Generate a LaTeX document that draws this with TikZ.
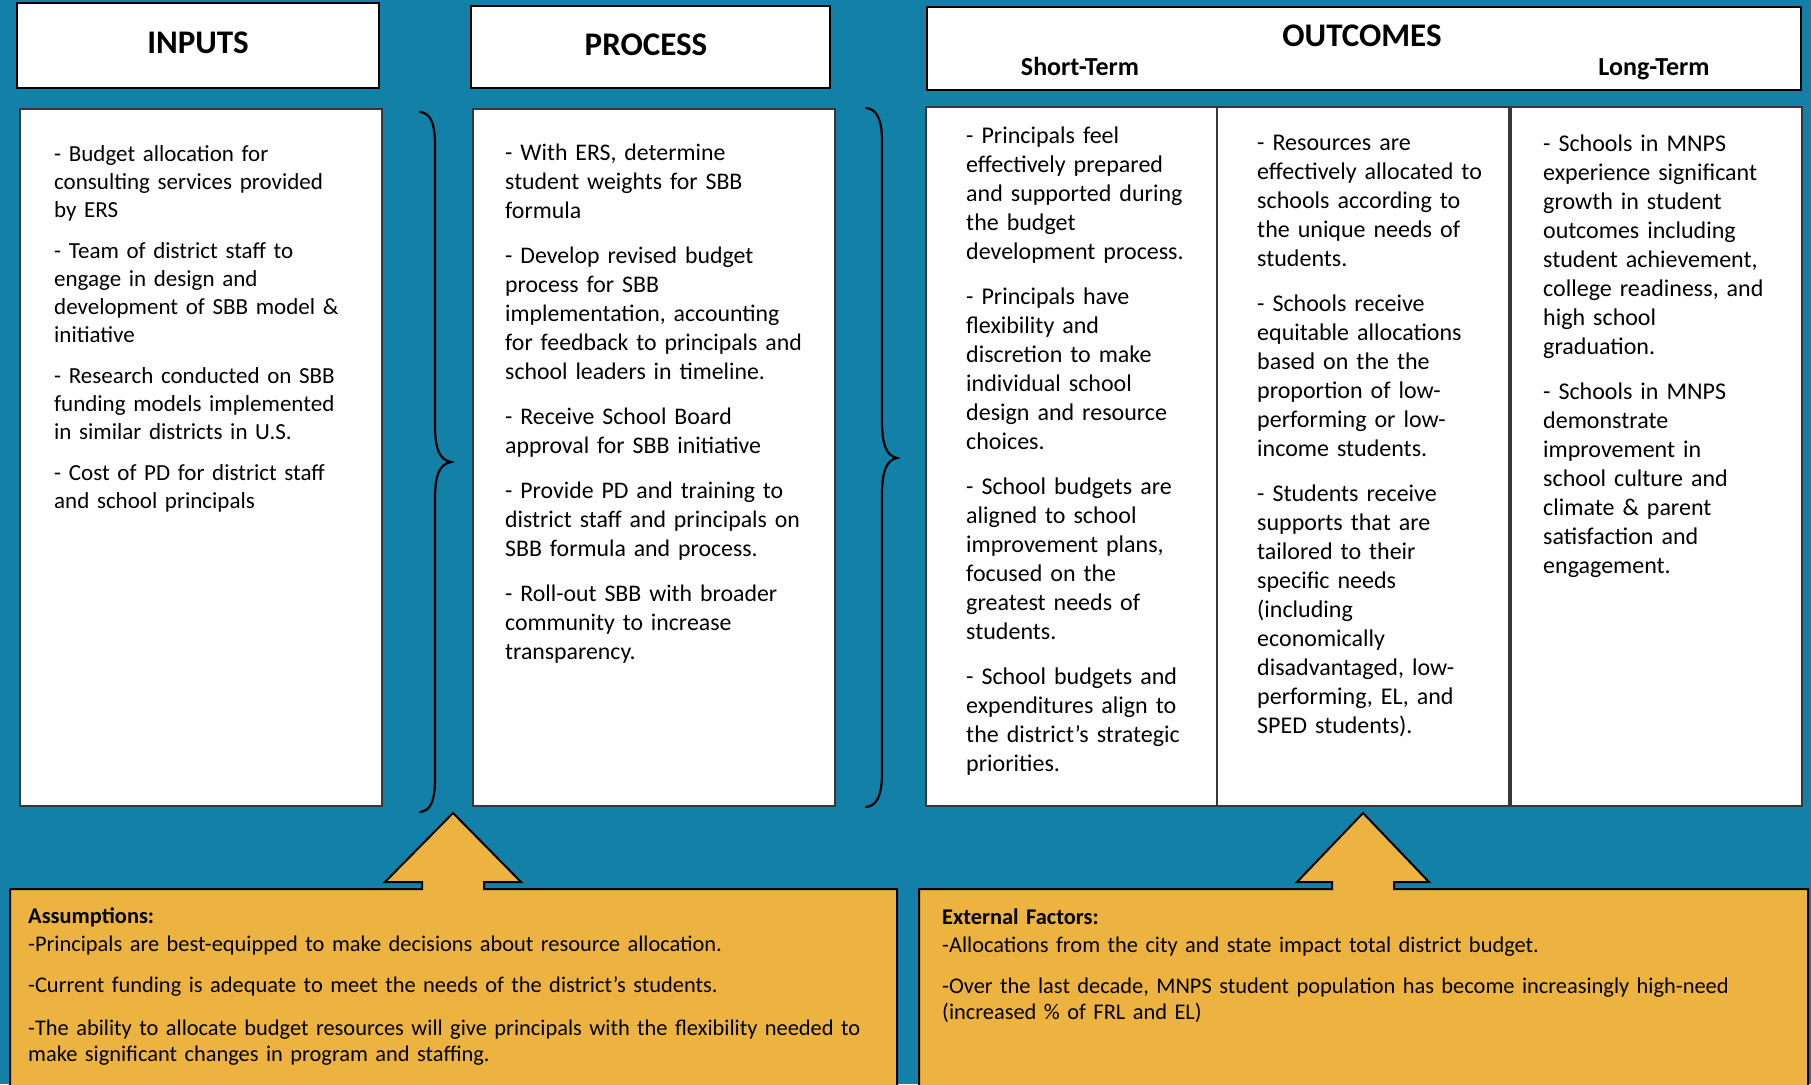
\documentclass[tikz,border=0pt]{standalone}
\usepackage{fontspec}
\setmainfont{Carlito}
\definecolor{bg}{RGB}{19,128,168}
\definecolor{gold}{RGB}{237,179,64}
\definecolor{edge}{RGB}{55,55,55}
\begin{document}
\begin{tikzpicture}[x=1pt,y=-1pt,
  hdr/.style={draw=black,line width=2.5pt,fill=white},
  panel/.style={draw=edge,line width=2.2pt,fill=white},
  brace/.style={draw=black,line width=2.2pt,line cap=round},
  goldbox/.style={draw=black,line width=2pt,fill=gold,line join=miter},
  body/.style={anchor=base west,inner sep=0pt,align=left,text width=340pt,font=\fontsize{24}{29}\selectfont},
  foot/.style={anchor=base west,inner sep=0pt,align=left,text width=870pt,font=\fontsize{22.4}{26}\selectfont},
  title/.style={inner sep=0pt,font=\fontsize{33}{38}\selectfont\bfseries},
  sub/.style={anchor=base,inner sep=0pt,font=\fontsize{26}{30}\selectfont\bfseries}]
\useasboundingbox (0,0) rectangle (1811,1084);
\clip (0,0) rectangle (1811,1084);
\fill[bg] (0,0) rectangle (1811,1084);

% headers
\draw[hdr] (17,3) rectangle (379,88);
\draw[hdr] (471,6) rectangle (830,88);
\draw[hdr] (927,7) rectangle (1801,90);
\node[title] (tin) at (198,43) {INPUTS};
\node[title] (tpr) at (646,45) {PROCESS};
\node[title] (tout) at (1362,36) {OUTCOMES};
\node[sub] (tshort) at (1080,75) {Short-Term};
\node[sub] (tlong) at (1654,75) {Long-Term};

% panels
\draw[panel] (20,109) rectangle (382,806);
\draw[panel] (473,109) rectangle (835,806);
\draw[panel] (926,107) rectangle (1802,806);
\draw[edge,line width=2pt] (1217,107) -- (1217,806);
\draw[edge,line width=4pt] (1510,107) -- (1510,806);

% braces
\draw[brace] (420,112) .. controls (430,113) and (435,122) .. (435,145) -- (435,425)
  .. controls (435,450) and (440,460) .. (451,462)
  .. controls (440,464) and (435,474) .. (435,499) -- (435,779)
  .. controls (435,802) and (430,811) .. (420,812);
\draw[brace] (866,108) .. controls (876,109) and (882,118) .. (882,141) -- (882,421)
  .. controls (882,446) and (887,456) .. (897,458)
  .. controls (887,460) and (882,470) .. (882,495) -- (882,773)
  .. controls (882,797) and (876,806) .. (866,807);

% text columns
\node[body,font=\fontsize{23}{28}\selectfont] (inputs) at (54,161) {%
- Budget allocation for\\consulting services provided\\by ERS\\[13pt]
- Team of district staff to\\engage in design and\\development of SBB model \&\\initiative\\[13pt]
- Research conducted on SBB\\funding models implemented\\in similar districts in U.S.\\[13pt]
- Cost of PD for district staff\\and school principals};

\node[body,font=\fontsize{23.8}{29}\selectfont] (process) at (505,160) {%
- With ERS, determine\\student weights for SBB\\formula\\[16pt]
- Develop revised budget\\process for SBB\\implementation, accounting\\for feedback to principals and\\school leaders in timeline.\\[16pt]
- Receive School Board\\approval for SBB initiative\\[16pt]
- Provide PD and training to\\district staff and principals on\\SBB formula and process.\\[16pt]
- Roll-out SBB with broader\\community to increase\\transparency.};

\node[body] (short) at (966,143) {%
- Principals feel\\effectively prepared\\and supported during\\the budget\\development process.\\[16pt]
- Principals have\\flexibility and\\discretion to make\\individual school\\design and resource\\choices.\\[16pt]
- School budgets are\\aligned to school\\improvement plans,\\focused on the\\greatest needs of\\students.\\[16pt]
- School budgets and\\expenditures align to\\the district’s strategic\\priorities.};

\node[body] (mid) at (1257,150) {%
- Resources are\\effectively allocated to\\schools according to\\the unique needs of\\students.\\[16pt]
- Schools receive\\equitable allocations\\based on the the\\proportion of low-\\performing or low-\\income students.\\[16pt]
- Students receive\\supports that are\\tailored to their\\specific needs\\(including\\economically\\disadvantaged, low-\\performing, EL, and\\SPED students).};

\node[body] (long) at (1543,151) {%
- Schools in MNPS\\experience significant\\growth in student\\outcomes including\\student achievement,\\college readiness, and\\high school\\graduation.\\[16pt]
- Schools in MNPS\\demonstrate\\improvement in\\school culture and\\climate \& parent\\satisfaction and\\engagement.};

% gold boxes with arrows
\draw[goldbox] (10,1100) -- (10,889) -- (422,889) -- (422,882) -- (385,882) -- (453,813)
  -- (521,882) -- (484,882) -- (484,889) -- (897,889) -- (897,1100);
\draw[goldbox] (919,1100) -- (919,889) -- (1332,889) -- (1332,882) -- (1297,882) -- (1363,813)
  -- (1429,882) -- (1394,882) -- (1394,889) -- (1808,889) -- (1808,1100);

\node[foot] (assume) at (28,923) {%
\textbf{Assumptions:}\\[2pt]
-Principals are best-equipped to make decisions about resource allocation.\\[15pt]
-Current funding is adequate to meet the needs of the district’s students.\\[17pt]
-The ability to allocate budget resources will give principals with the flexibility needed to\\
make significant changes in program and staffing.};

\node[foot] (extern) at (942,924) {%
\textbf{External Factors:}\\[2pt]
-Allocations from the city and state impact total district budget.\\[15pt]
-Over the last decade, MNPS student population has become increasingly high-need\\
(increased \% of FRL and EL)};
\end{tikzpicture}
\end{document}
